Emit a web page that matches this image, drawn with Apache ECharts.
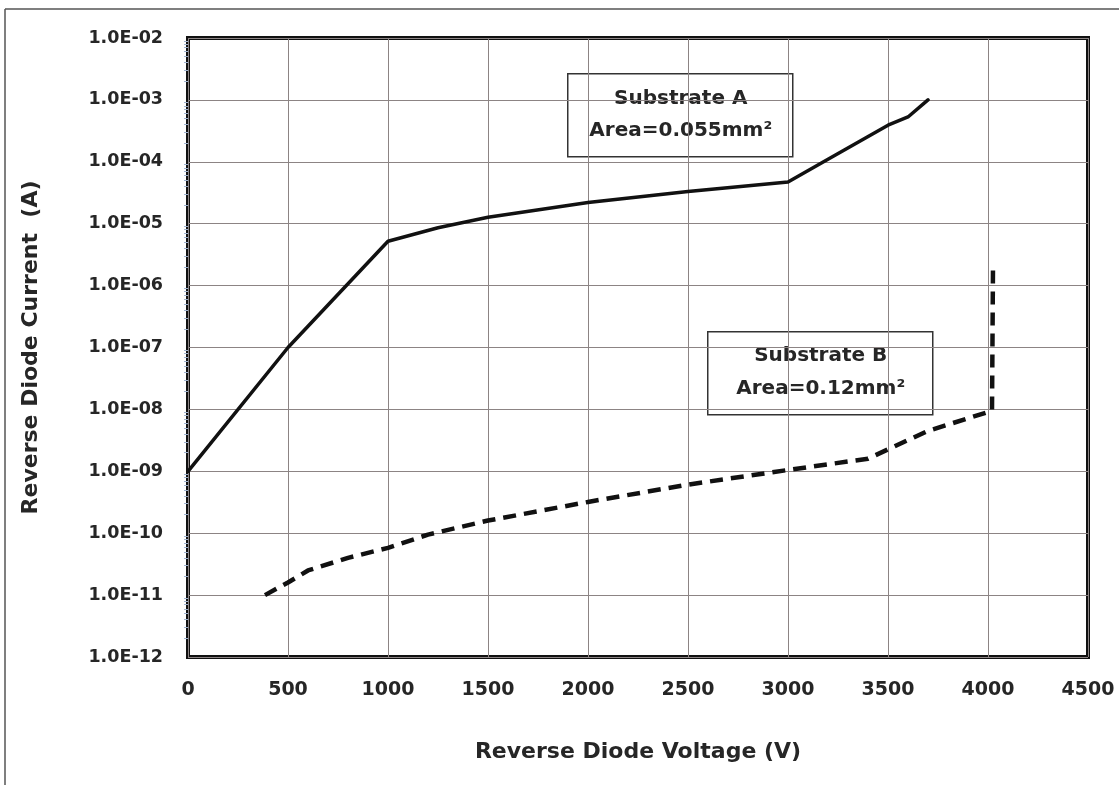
<!DOCTYPE html>
<html>
<head>
<meta charset="utf-8">
<script src="https://cdn.jsdelivr.net/npm/echarts@6/dist/echarts.min.js"></script>
<style>
html,body{margin:0;padding:0;background:#fff;}
#chart{width:1119px;height:785px;}
</style>
</head>
<body>
<div id="chart"></div>
<script>
// Substrate A (solid)
const voltageA = [0, 500, 1000, 1250, 1500, 2000, 2500, 3000, 3200, 3500, 3600, 3700];
const currentA = [1e-9, 1e-7, 5.2e-6, 8.6e-6, 1.27e-5, 2.2e-5, 3.3e-5, 4.7e-5, 1.1e-4, 3.9e-4, 5.3e-4, 1.0e-3];
// Substrate B (dashed)
const voltageB = [385, 500, 600, 800, 1000, 1200, 1500, 2000, 2500, 3000, 3400, 3700, 4020, 4025];
const currentB = [1e-11, 1.6e-11, 2.5e-11, 4.0e-11, 5.8e-11, 9.5e-11, 1.6e-10, 3.2e-10, 6.1e-10, 1.05e-9, 1.6e-9, 4.5e-9, 9.5e-9, 2.1e-6];
const xTicks = [0, 500, 1000, 1500, 2000, 2500, 3000, 3500, 4000, 4500];
const yMin = 1e-12, yMax = 1e-2;
const labelA = ['Substrate A', 'Area=0.055mm²'];
const labelB = ['Substrate B', 'Area=0.12mm²'];

const FONT = '"DejaVu Sans", sans-serif';
const pairs = (xs, ys) => xs.map((x, i) => [x, ys[i]]);
function sci(v) {
  const e = Math.round(Math.log10(v));
  const a = Math.abs(e);
  return '1.0E' + (e < 0 ? '-' : '+') + (a < 10 ? '0' + a : a);
}

const chart = echarts.init(document.getElementById('chart'), null, {renderer: 'canvas'});
const option = {
  backgroundColor: '#fff',
  animation: false,
  grid: {left: 188, top: 38, right: 31, bottom: 128, show: true, borderColor: '#111', borderWidth: 4, backgroundColor: 'transparent'},
  xAxis: {
    type: 'value', min: xTicks[0], max: xTicks[xTicks.length - 1], interval: 500,
    name: 'Reverse Diode Voltage (V)', nameLocation: 'middle', nameGap: 84,
    nameTextStyle: {fontFamily: FONT, fontWeight: 'bold', fontSize: 22, color: '#262626'},
    axisLine: {show: false},
    axisTick: {show: false},
    axisLabel: {margin: 24, fontFamily: FONT, fontWeight: 'bold', fontSize: 19, color: '#262626', formatter: v => String(v)},
    splitLine: {show: true, lineStyle: {color: '#8c8484', width: 1}}
  },
  yAxis: {
    type: 'log', logBase: 10, min: yMin, max: yMax,
    name: 'Reverse Diode Current  (A)', nameLocation: 'middle', nameGap: 146, nameRotate: 90,
    nameTextStyle: {fontFamily: FONT, fontWeight: 'bold', fontSize: 22, color: '#262626'},
    axisLine: {show: false},
    axisTick: {show: false},
    minorTick: {show: true, splitNumber: 9, length: 4, lineStyle: {color: '#9fb3cf', width: 1}},
    axisLabel: {margin: 25, fontFamily: FONT, fontWeight: 'bold', fontSize: 17.5, color: '#262626', formatter: sci},
    splitLine: {show: true, lineStyle: {color: '#8c8484', width: 1}}
  },
  series: [
    {
      name: 'Substrate A', type: 'line', data: pairs(voltageA, currentA),
      showSymbol: false, smooth: false,
      lineStyle: {color: '#111', width: 3.5, join: 'round', cap: 'round'}
    },
    {
      name: 'Substrate B', type: 'line', data: pairs(voltageB, currentB),
      showSymbol: false, smooth: false,
      lineStyle: {color: '#111', width: 4.5, type: [13, 8]}
    }
  ],
  graphic: [
    {type: 'line', shape: {x1: 5, y1: 9, x2: 1119, y2: 9}, style: {stroke: '#555', lineWidth: 1.5}, z: 100},
    {type: 'line', shape: {x1: 5, y1: 9, x2: 5, y2: 785}, style: {stroke: '#555', lineWidth: 1.5}, z: 100},
    {type: 'group', left: 567, top: 73, z: 100, children: [
      {type: 'rect', shape: {x: 0, y: 0, width: 225, height: 83}, style: {fill: '#fff', stroke: '#333', lineWidth: 1.5}},
      {type: 'text', x: 113, y: 25, style: {text: labelA[0], font: 'bold 20px ' + FONT, fill: '#262626', align: 'center', verticalAlign: 'middle'}},
      {type: 'text', x: 113, y: 57, style: {text: labelA[1], font: 'bold 20px ' + FONT, fill: '#262626', align: 'center', verticalAlign: 'middle'}}
    ]},
    {type: 'group', left: 707, top: 331, z: 100, children: [
      {type: 'rect', shape: {x: 0, y: 0, width: 225, height: 83}, style: {fill: '#fff', stroke: '#333', lineWidth: 1.5}},
      {type: 'text', x: 113, y: 24, style: {text: labelB[0], font: 'bold 20px ' + FONT, fill: '#262626', align: 'center', verticalAlign: 'middle'}},
      {type: 'text', x: 113, y: 57, style: {text: labelB[1], font: 'bold 20px ' + FONT, fill: '#262626', align: 'center', verticalAlign: 'middle'}}
    ]}
  ]
};
chart.setOption(option);
</script>
</body>
</html>
